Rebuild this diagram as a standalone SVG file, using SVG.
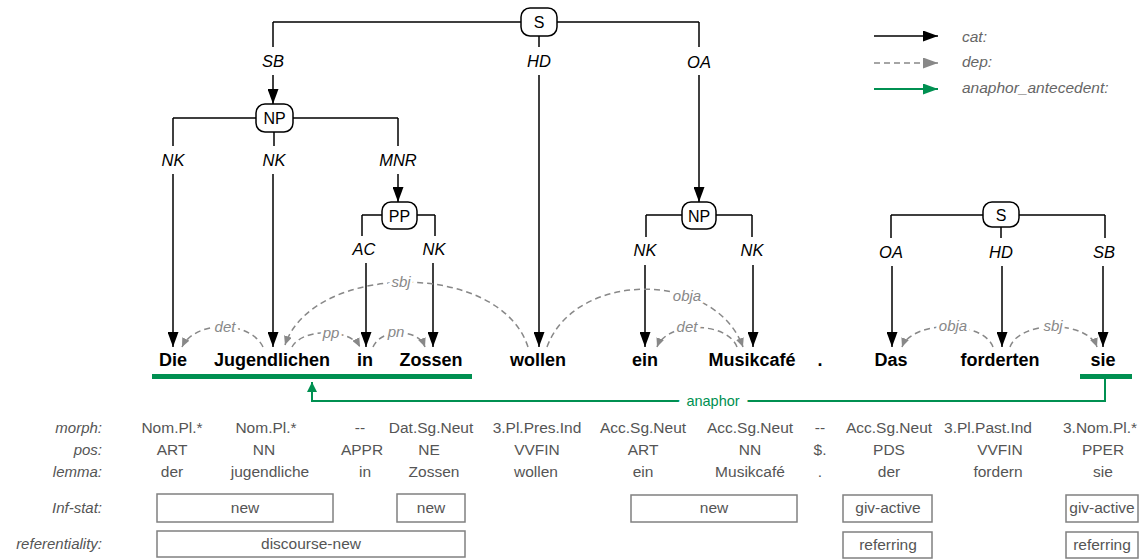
<svg xmlns="http://www.w3.org/2000/svg" width="1141" height="559" viewBox="0 0 1141 559">
  <defs>
    <marker id="arr-cat" viewBox="0 0 15 11" refX="15" refY="5.5" markerWidth="15" markerHeight="11" markerUnits="userSpaceOnUse" orient="auto">
      <path d="M0,0 L15,5.5 L0,11 z" fill="#000"/>
    </marker>
    <marker id="arr-dep" viewBox="0 0 9 8" refX="9" refY="4" markerWidth="9" markerHeight="8" markerUnits="userSpaceOnUse" orient="auto">
      <path d="M0,0 L9,4 L0,8 z" fill="#888"/>
    </marker>
    <marker id="arr-dep-lg" viewBox="0 0 15 11" refX="15" refY="5.5" markerWidth="15" markerHeight="11" markerUnits="userSpaceOnUse" orient="auto">
      <path d="M0,0 L15,5.5 L0,11 z" fill="#888"/>
    </marker>
    <marker id="arr-ana" viewBox="0 0 10 10" refX="10" refY="5" markerWidth="10" markerHeight="10" markerUnits="userSpaceOnUse" orient="auto">
      <path d="M0,0 L10,5 L0,10 z" fill="#009051"/>
    </marker>
    <marker id="arr-ana-lg" viewBox="0 0 15 11" refX="15" refY="5.5" markerWidth="15" markerHeight="11" markerUnits="userSpaceOnUse" orient="auto">
      <path d="M0,0 L15,5.5 L0,11 z" fill="#009051"/>
    </marker>
    <style>
      text { font-family: "Liberation Sans", Arial, Helvetica, sans-serif; }
      .cat { fill: none; stroke: #000; stroke-width: 1.5; }
      .cat-a { marker-end: url(#arr-cat); }
      .dep { fill: none; stroke: #888; stroke-width: 1.5; stroke-dasharray: 6 4; marker-end: url(#arr-dep); }
      .ana { fill: none; stroke: #009051; stroke-width: 2; }
      .bar { stroke: #009051; stroke-width: 5; }
      .node rect { fill: #fff; stroke: #000; stroke-width: 1.5; }
      .node text { font-size: 16px; text-anchor: middle; fill: #000; }
      .elab { font-size: 16.5px; font-style: italic; text-anchor: middle; fill: #000; }
      .dlab { font-size: 15px; font-style: italic; text-anchor: middle; fill: #888; stroke: #fff; stroke-width: 6; paint-order: stroke; }
      .alab { font-size: 14.5px; text-anchor: middle; fill: #009051; stroke: #fff; stroke-width: 16; paint-order: stroke; }
      .tok { font-size: 18px; font-weight: bold; text-anchor: middle; fill: #000; }
      .rowlab { font-size: 15px; font-style: italic; text-anchor: end; fill: #555; }
      .ann { font-size: 15.5px; text-anchor: middle; fill: #555; }
      .box { fill: #fff; stroke: #808080; stroke-width: 1.5; }
      .leg { font-size: 15.5px; font-style: italic; fill: #666; }
    </style>
  </defs>

  <!-- edges: category tree, dependencies, anaphora -->
  <g id="connectors">
    <!-- top S -->
    <path class="cat" d="M273,22 H521 M557,22 H699"/>
    <path class="cat" d="M273,22 V47"/>
    <path class="cat cat-a" d="M273,75 V104"/>
    <path class="cat" d="M539,36 V47"/>
    <path class="cat cat-a" d="M539,75 V347"/>
    <path class="cat" d="M699,22 V47"/>
    <path class="cat cat-a" d="M699,75 V202"/>
    <text class="elab" x="273" y="67">SB</text>
    <text class="elab" x="539" y="67">HD</text>
    <text class="elab" x="699" y="68">OA</text>

    <!-- left NP -->
    <path class="cat" d="M173,118 H256 M293,118 H398"/>
    <path class="cat" d="M173,118 V146"/>
    <path class="cat cat-a" d="M173,174 V347"/>
    <path class="cat" d="M274,132 V146"/>
    <path class="cat cat-a" d="M273,174 V347"/>
    <path class="cat" d="M398,118 V146"/>
    <path class="cat cat-a" d="M398,174 V202"/>
    <text class="elab" x="173" y="166">NK</text>
    <text class="elab" x="274" y="166">NK</text>
    <text class="elab" x="398" y="166">MNR</text>

    <!-- PP -->
    <path class="cat" d="M362,215 H382 M417,215 H435"/>
    <path class="cat" d="M362,215 V236"/>
    <path class="cat cat-a" d="M366,263 V347"/>
    <path class="cat" d="M435,215 V236"/>
    <path class="cat cat-a" d="M433,263 V347"/>
    <text class="elab" x="364" y="255">AC</text>
    <text class="elab" x="434" y="255">NK</text>

    <!-- middle NP -->
    <path class="cat" d="M646,215 H682 M716,215 H752"/>
    <path class="cat" d="M646,215 V237"/>
    <path class="cat cat-a" d="M645,265 V347"/>
    <path class="cat" d="M752,215 V237"/>
    <path class="cat cat-a" d="M753,265 V347"/>
    <text class="elab" x="645" y="256">NK</text>
    <text class="elab" x="752" y="256">NK</text>

    <!-- right S -->
    <path class="cat" d="M891,215 H983 M1019,215 H1105"/>
    <path class="cat" d="M891,215 V238"/>
    <path class="cat cat-a" d="M892,266 V347"/>
    <path class="cat" d="M1001,227 V238"/>
    <path class="cat cat-a" d="M1002,266 V347"/>
    <path class="cat" d="M1105,215 V238"/>
    <path class="cat cat-a" d="M1103,266 V347"/>
    <text class="elab" x="891" y="258">OA</text>
    <text class="elab" x="1001" y="258">HD</text>
    <text class="elab" x="1104" y="258">SB</text>

    <!-- dependency arcs -->
    <path class="dep" d="M263,347 C250,320 195,320 182,347"/>
    <path class="dep" d="M528,347 C500,260 313,262 285,345"/>
    <path class="dep" d="M292,347 C302,328 350,328 360,347"/>
    <path class="dep" d="M373,347 C381,328 418,328 425,347"/>
    <path class="dep" d="M547,347 C575,270 715,270 743,347"/>
    <path class="dep" d="M737,347 C727,321 667,321 657,347"/>
    <path class="dep" d="M993,347 C983,320 912,320 902,347"/>
    <path class="dep" d="M1010,347 C1020,320 1087,320 1097,347"/>
    <text class="dlab" x="225" y="332">det</text>
    <text class="dlab" x="401" y="287">sbj</text>
    <text class="dlab" x="331" y="338">pp</text>
    <text class="dlab" x="396" y="337">pn</text>
    <text class="dlab" x="687" y="301">obja</text>
    <text class="dlab" x="687" y="332">det</text>
    <text class="dlab" x="953" y="331">obja</text>
    <text class="dlab" x="1053" y="331">sbj</text>

    <!-- anaphor link -->
    <line class="bar" x1="152" y1="376.5" x2="472" y2="376.5"/>
    <line class="bar" x1="1080" y1="376.5" x2="1132" y2="376.5"/>
    <path class="ana" d="M1105,379 V401 H312 V382" marker-end="url(#arr-ana)"/>
    <text class="alab" x="713" y="406">anaphor</text>
  </g>

  <!-- category nodes -->
  <g id="node-S1" class="node"><rect x="521" y="8" width="36" height="28" rx="9"/><text x="539" y="28">S</text></g>
  <g id="node-NP1" class="node"><rect x="256" y="104" width="37" height="28" rx="9"/><text x="274.5" y="124">NP</text></g>
  <g id="node-PP1" class="node"><rect x="382" y="202" width="35" height="27" rx="9"/><text x="399.5" y="221.5">PP</text></g>
  <g id="node-NP2" class="node"><rect x="682" y="202" width="34" height="27" rx="9"/><text x="699" y="221.5">NP</text></g>
  <g id="node-S2" class="node"><rect x="983" y="202" width="36" height="25" rx="9"/><text x="1001" y="220.5">S</text></g>

  <!-- tokens -->
  <g id="tokens">
    <text id="tok-1" class="tok" x="173" y="366">Die</text>
    <text id="tok-2" class="tok" x="272" y="366">Jugendlichen</text>
    <text id="tok-3" class="tok" x="365" y="366">in</text>
    <text id="tok-4" class="tok" x="431" y="366">Zossen</text>
    <text id="tok-5" class="tok" x="538" y="366">wollen</text>
    <text id="tok-6" class="tok" x="645" y="366">ein</text>
    <text id="tok-7" class="tok" x="752" y="366">Musikcafé</text>
    <text id="tok-8" class="tok" x="820" y="366">.</text>
    <text id="tok-9" class="tok" x="891" y="366">Das</text>
    <text id="tok-10" class="tok" x="1000" y="366">forderten</text>
    <text id="tok-11" class="tok" x="1103" y="366">sie</text>
  </g>

  <!-- legend -->
  <g id="legend">
    <line class="cat" x1="874" y1="36" x2="938" y2="36" marker-end="url(#arr-cat)"/>
    <line x1="874" y1="63" x2="938" y2="63" stroke="#888" stroke-width="1.5" stroke-dasharray="6 4" marker-end="url(#arr-dep-lg)"/>
    <line x1="874" y1="89" x2="938" y2="89" stroke="#009051" stroke-width="2" marker-end="url(#arr-ana-lg)"/>
    <text class="leg" x="962" y="42">cat:</text>
    <text class="leg" x="962" y="67">dep:</text>
    <text class="leg" x="962" y="93">anaphor_antecedent:</text>
  </g>

  <!-- token annotation rows -->
  <g id="annotations">
    <text class="rowlab" x="102" y="433">morph:</text>
    <text class="rowlab" x="102" y="455">pos:</text>
    <text class="rowlab" x="102" y="477">lemma:</text>
    <text class="rowlab" x="102" y="513">Inf-stat:</text>
    <text class="rowlab" x="102" y="549">referentiality:</text>

    <text class="ann" x="172" y="433">Nom.Pl.*</text>
    <text class="ann" x="266" y="433">Nom.Pl.*</text>
    <text class="ann" x="360" y="433">--</text>
    <text class="ann" x="431" y="433">Dat.Sg.Neut</text>
    <text class="ann" x="537" y="433">3.Pl.Pres.Ind</text>
    <text class="ann" x="643" y="433">Acc.Sg.Neut</text>
    <text class="ann" x="750" y="433">Acc.Sg.Neut</text>
    <text class="ann" x="820" y="433">--</text>
    <text class="ann" x="889" y="433">Acc.Sg.Neut</text>
    <text class="ann" x="988" y="433">3.Pl.Past.Ind</text>
    <text class="ann" x="1100" y="433">3.Nom.Pl.*</text>

    <text class="ann" x="172" y="455">ART</text>
    <text class="ann" x="264" y="455">NN</text>
    <text class="ann" x="362" y="455">APPR</text>
    <text class="ann" x="429" y="455">NE</text>
    <text class="ann" x="537" y="455">VVFIN</text>
    <text class="ann" x="643" y="455">ART</text>
    <text class="ann" x="750" y="455">NN</text>
    <text class="ann" x="820" y="455">$.</text>
    <text class="ann" x="889" y="455">PDS</text>
    <text class="ann" x="1000" y="455">VVFIN</text>
    <text class="ann" x="1103" y="455">PPER</text>

    <text class="ann" x="172" y="477">der</text>
    <text class="ann" x="270" y="477">jugendliche</text>
    <text class="ann" x="365" y="477">in</text>
    <text class="ann" x="434" y="477">Zossen</text>
    <text class="ann" x="536" y="477">wollen</text>
    <text class="ann" x="643" y="477">ein</text>
    <text class="ann" x="750" y="477">Musikcafé</text>
    <text class="ann" x="820" y="477">.</text>
    <text class="ann" x="889" y="477">der</text>
    <text class="ann" x="998" y="477">fordern</text>
    <text class="ann" x="1103" y="477">sie</text>

    <rect class="box" x="157" y="494" width="176" height="28"/>
    <text class="ann" x="245" y="513">new</text>
    <rect class="box" x="397" y="494" width="68" height="28"/>
    <text class="ann" x="431" y="513">new</text>
    <rect class="box" x="631" y="495" width="166" height="27"/>
    <text class="ann" x="714" y="513">new</text>
    <rect class="box" x="843" y="495" width="89" height="27"/>
    <text class="ann" x="888" y="513">giv-active</text>
    <rect class="box" x="1066" y="495" width="72" height="27"/>
    <text class="ann" x="1102" y="513">giv-active</text>

    <rect class="box" x="157" y="531" width="308" height="26"/>
    <text class="ann" x="311" y="549">discourse-new</text>
    <rect class="box" x="843" y="532" width="89" height="26"/>
    <text class="ann" x="888" y="550">referring</text>
    <rect class="box" x="1066" y="532" width="72" height="26"/>
    <text class="ann" x="1102" y="550">referring</text>
  </g>
</svg>
